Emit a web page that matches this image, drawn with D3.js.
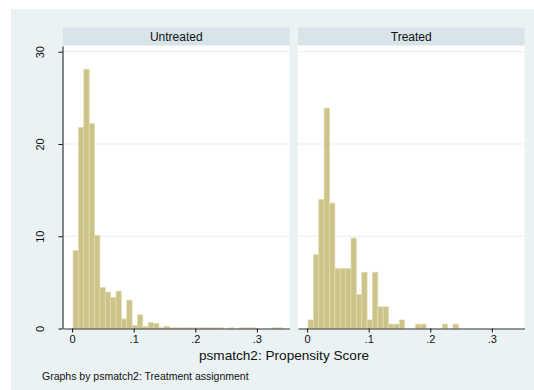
<!DOCTYPE html>
<html>
<head>
<meta charset="utf-8">
<script src="https://cdn.jsdelivr.net/npm/d3@7"></script>
<style>
  body { margin: 0; background: #fff; }
  svg { display: block; font-family: "Liberation Sans", Arial, sans-serif; }
</style>
</head>
<body>
<div id="chart"></div>
<script>
// Histogram data (density)
var groups = ["Untreated", "Treated"];
var binStart = 0.0015;
var binWidth = 0.00872;
var untreated = [8.46, 21.8, 28.1, 22.2, 10.1, 4.45, 3.94, 3.36, 4.05, 1.04,
  3.07, 0.33, 1.48, 0.2, 0.65, 0.55, 0.1, 0.25, 0.08, 0.08,
  0.08, 0.08, 0.08, 0.08, 0.08, 0.08, 0.08, 0.08, 0, 0.08,
  0, 0.08, 0.08, 0.08, 0, 0, 0, 0.08, 0.08];
var treated = [0.93, 8.0, 14.0, 23.9, 13.6, 6.5, 6.5, 6.5, 9.8, 3.7,
  6.1, 0.93, 6.1, 2.35, 2.35, 0.47, 0.47, 0.93, 0, 0,
  0.47, 0.47, 0, 0, 0, 0.47, 0, 0.47];
var xTicks = [0, 0.1, 0.2, 0.3];
var yTicks = [0, 10, 20, 30];
var series = [untreated, treated];

var W = 534, H = 390;
var panelLeft = [63, 298], panelW = 226.5;
var plotTop = 46, plotBottom = 328.5;

var svg = d3.select("#chart").append("svg")
  .attr("width", W).attr("height", H);

// Outer background
svg.append("rect").attr("x", 11).attr("y", 9)
  .attr("width", W - 11).attr("height", H - 9)
  .attr("fill", "#eaf2f3");

var y = d3.scaleLinear().domain([0, 30.62]).range([plotBottom, plotTop]);

var xFmt = function (d) {
  return d === 0 ? "0" : d3.format(".1f")(d).replace(/^0/, "");
};

groups.forEach(function (g, gi) {
  var x0 = panelLeft[gi];
  var x = d3.scaleLinear().domain([-0.0148, 0.353]).range([x0, x0 + panelW]);

  // Strip header
  svg.append("rect").attr("x", x0).attr("y", 27.5)
    .attr("width", panelW).attr("height", 17.5)
    .attr("fill", "#d8e4e9");
  svg.append("text").attr("x", x0 + panelW / 2).attr("y", 40.5)
    .attr("text-anchor", "middle").attr("font-size", 12).attr("fill", "#111")
    .text(g);

  // Plot region
  svg.append("rect").attr("x", x0).attr("y", plotTop)
    .attr("width", panelW).attr("height", plotBottom - plotTop)
    .attr("fill", "#fff");

  // Gridlines
  svg.selectAll(null).data(yTicks.slice(1)).enter().append("line")
    .attr("x1", x0).attr("x2", x0 + panelW)
    .attr("y1", function (d) { return y(d); })
    .attr("y2", function (d) { return y(d); })
    .attr("stroke", "#e4eef0").attr("stroke-width", 1);

  // Bars (keep the bin index with each value, skip empty bins)
  var bins = series[gi].map(function (v, i) { return { bin: i, v: v }; })
    .filter(function (d) { return d.v > 0; });
  svg.selectAll(null).data(bins).enter().append("rect")
    .attr("x", function (d) { return x(binStart + d.bin * binWidth); })
    .attr("width", x(binWidth) - x(0))
    .attr("y", function (d) { return y(d.v); })
    .attr("height", function (d) { return plotBottom - y(d.v); })
    .attr("fill", "#cbc38a")
    .attr("stroke", "#e2ddae").attr("stroke-width", 0.7);

  // X axis
  var xa = svg.append("g")
    .attr("transform", "translate(0," + plotBottom + ")")
    .call(d3.axisBottom(x).tickValues(xTicks).tickFormat(xFmt)
      .tickSize(4).tickSizeOuter(0).tickPadding(3));
  xa.select(".domain").attr("stroke", "#333");
  xa.selectAll(".tick line").attr("stroke", "#111");
  xa.selectAll("text").attr("font-size", 11).attr("fill", "#111")
    .attr("font-family", "Liberation Sans, Arial, sans-serif");

  // Y axis on left panel only
  if (gi === 0) {
    var ya = svg.append("g")
      .attr("transform", "translate(" + (x0 - 0.5) + ",0)")
      .call(d3.axisLeft(y).tickValues(yTicks).tickSize(4).tickSizeOuter(0));
    ya.select(".domain").attr("stroke", "#111");
    ya.selectAll(".tick line").attr("stroke", "#111");
    ya.selectAll("text")
      .attr("font-size", 11).attr("fill", "#111")
      .attr("font-family", "Liberation Sans, Arial, sans-serif")
      .attr("x", 0).attr("dy", 0)
      .attr("text-anchor", "middle")
      .attr("transform", "translate(-19,0) rotate(-90)");
  }
});

// Axis title and note
svg.append("text").attr("x", 284).attr("y", 360)
  .attr("text-anchor", "middle").attr("font-size", 13.6).attr("fill", "#111")
  .text("psmatch2: Propensity Score");
svg.append("text").attr("x", 42).attr("y", 380)
  .attr("font-size", 10.5).attr("fill", "#111")
  .text("Graphs by psmatch2: Treatment assignment");
</script>
</body>
</html>
